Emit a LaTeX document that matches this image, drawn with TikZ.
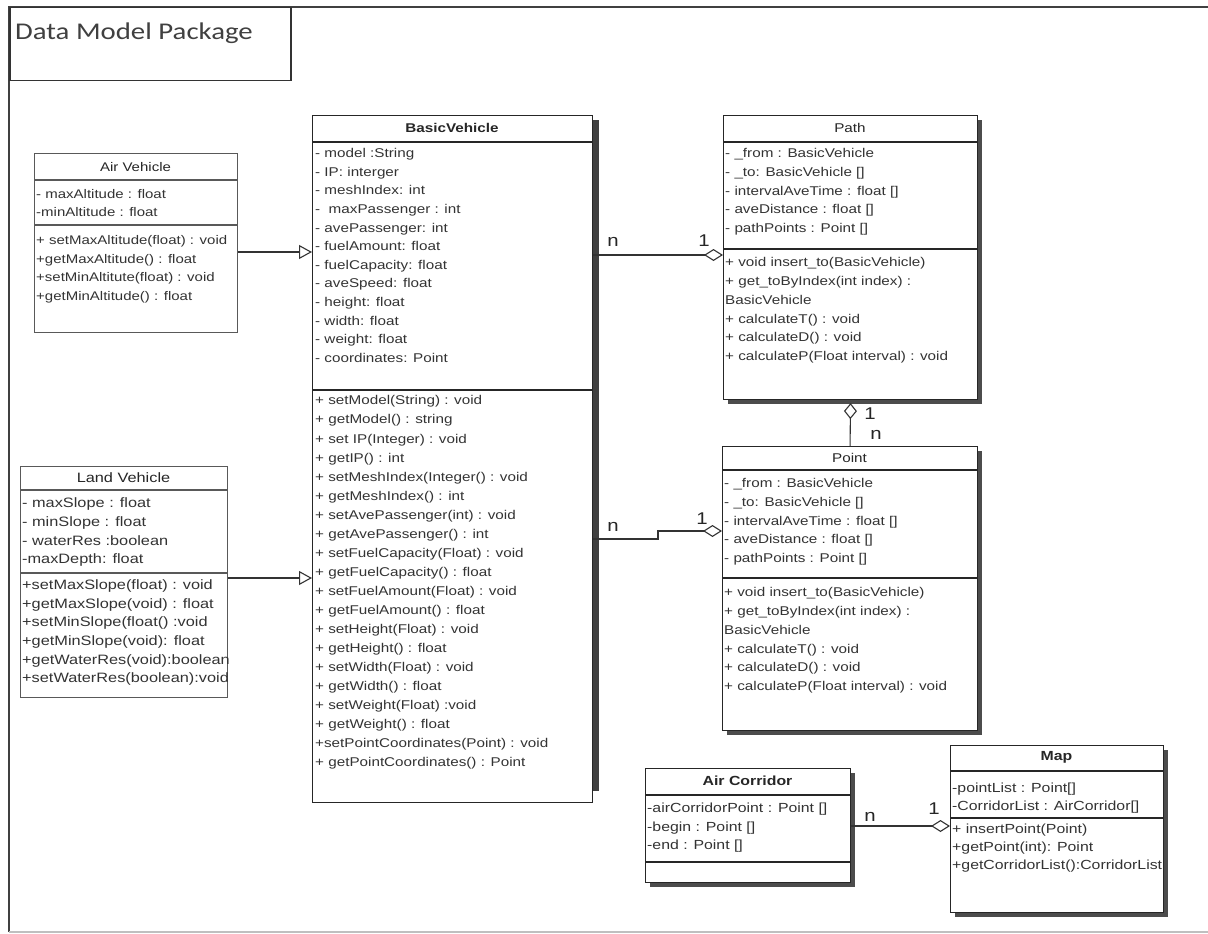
\documentclass[tikz,border=0pt]{standalone}
\usepackage{fontspec}
\newfontfamily\umlf[FakeStretch=1.2]{Liberation Sans}
\newfontfamily\pkgf[FakeStretch=1.2]{Carlito}
\newcommand\umlsize[2]{\umlf\fontsize{#1}{#2}\selectfont}
\usetikzlibrary{arrows.meta,calc,shadows}

\tikzset{
  cls/.style={rectangle, draw=black!85, line width=1.1pt, fill=white, inner sep=0pt, anchor=north west},
  lightcls/.style={rectangle, draw=black!65, line width=1pt, fill=white, inner sep=0pt, anchor=north west},
  shd/.style={drop shadow={shadow xshift=4pt, shadow yshift=-4pt, fill=black!70, opacity=1}},
  sep/.style={draw=black!85, line width=2pt},
  lightsep/.style={draw=black!65, line width=1.8pt},
  txt/.style={inner sep=0pt, anchor=north west, align=left, text=black!80},
  ttl/.style={inner sep=0pt, text=black!85},
  mult/.style={inner sep=0pt, font=\umlsize{17}{17}, text=black!85},
  gen/.style={draw=black!80, line width=1.1pt, -{Triangle[open, length=13pt, width=14pt]}},
  agg/.style={draw=black!80, line width=1.1pt, -{Diamond[open, length=19pt, width=12pt]}},
  aggv/.style={draw=black!80, line width=1.1pt, -{Diamond[open, length=16pt, width=13pt]}},
}

\begin{document}
\begin{tikzpicture}[x=1pt, y=-1pt]
\useasboundingbox (0,0) rectangle (1208,934);
\fill[white] (0,0) rectangle (1208,934);

% package frame and its name tab
\draw[black!75, line width=2pt] (9,932) -- (9,7) -- (1208,7);
\draw[black!25, line width=1.5pt] (9,932) -- (1208,932);
\node[rectangle, draw=black!80, line width=1.5pt, anchor=north west, minimum width=281pt, minimum height=73pt, inner sep=0pt] (pkg) at (9,7) {};
\node[anchor=base west, inner sep=0pt, font=\pkgf\fontsize{24}{24}\selectfont, text=black!75] (pkg-name) at (15,40) {Data Model Package};

% ---------------- Air Vehicle
\node[lightcls, minimum width=203pt, minimum height=179pt] (av) at (34,153) {};
\node[ttl, font=\umlsize{12.5}{15}] (av-t) at (135.5,167) {Air Vehicle};
\draw[lightsep] (av.west |- 0,180) -- (av.east |- 0,180);
\draw[lightsep] (av.west |- 0,225) -- (av.east |- 0,225);
\node[txt, font=\umlsize{12.5}{18}] (av-a) at (36,185.9) {\strut- maxAltitude : float\\-minAltitude : float};
\node[txt, font=\umlsize{12.5}{18.5}] (av-m) at (36,231.5) {\strut+ setMaxAltitude(float) : void\\+getMaxAltitude() : float\\+setMinAltitute(float) : void\\+getMinAltitude() : float};

% ---------------- Land Vehicle
\node[lightcls, minimum width=207pt, minimum height=231pt] (lv) at (20,466) {};
\node[ttl, font=\umlsize{13.6}{15}] (lv-t) at (123.5,478) {Land Vehicle};
\draw[lightsep] (lv.west |- 0,490) -- (lv.east |- 0,490);
\draw[lightsep] (lv.west |- 0,573) -- (lv.east |- 0,573);
\node[txt, font=\umlsize{13.6}{18.7}] (lv-a) at (22,494.4) {\strut- maxSlope : float\\- minSlope : float\\- waterRes :boolean\\-maxDepth: float};
\node[txt, font=\umlsize{13.6}{18.6}] (lv-m) at (22,576.5) {\strut+setMaxSlope(float) : void\\+getMaxSlope(void) : float\\+setMinSlope(float() :void\\+getMinSlope(void): float\\+getWaterRes(void):boolean\\+setWaterRes(boolean):void};

% ---------------- BasicVehicle
\node[cls, minimum width=280pt, minimum height=687pt] (bv) at (312,115) {};
\fill[black!75] ($(bv.north east)+(0,5)$) rectangle ($(bv.south east)+(6,-12)$);
\node[ttl, font=\umlsize{12.7}{15}\bfseries] (bv-t) at (452,128) {BasicVehicle};
\draw[sep] (bv.west |- 0,142) -- (bv.east |- 0,142);
\draw[sep] (bv.west |- 0,390) -- (bv.east |- 0,390);
\node[txt, font=\umlsize{12.7}{18.6}] (bv-a) at (315,144.5) {\strut- model :String\\- IP: interger\\- meshIndex: int\\-\ \ maxPassenger : int\\- avePassenger: int\\- fuelAmount: float\\- fuelCapacity: float\\- aveSpeed: float\\- height: float\\- width: float\\- weight: float\\- coordinates: Point};
\node[txt, font=\umlsize{12.7}{19.05}] (bv-m) at (315,391.4) {\strut+ setModel(String) : void\\+ getModel() : string\\+ set IP(Integer) : void\\+ getIP() : int\\+ setMeshIndex(Integer() : void\\+ getMeshIndex() : int\\+ setAvePassenger(int) : void\\+ getAvePassenger() : int\\+ setFuelCapacity(Float) : void\\+ getFuelCapacity() : float\\+ setFuelAmount(Float) : void\\+ getFuelAmount() : float\\+ setHeight(Float) : void\\+ getHeight() : float\\+ setWidth(Float) : void\\+ getWidth() : float\\+ setWeight(Float) :void\\+ getWeight() : float\\+setPointCoordinates(Point) : void\\+ getPointCoordinates() : Point};

% ---------------- Path
\node[cls, shd, minimum width=254pt, minimum height=284pt] (pa) at (723,115) {};
\node[ttl, font=\umlsize{12.7}{15}] (pa-t) at (850,128) {Path};
\draw[sep] (pa.west |- 0,142) -- (pa.east |- 0,142);
\draw[sep] (pa.west |- 0,249) -- (pa.east |- 0,249);
\node[txt, font=\umlsize{12.7}{18.75}] (pa-a) at (725,144.4) {\strut- \_from : BasicVehicle\\- \_to: BasicVehicle []\\- intervalAveTime : float []\\- aveDistance : float []\\- pathPoints : Point []};
\node[txt, font=\umlsize{12.7}{18.8}] (pa-m) at (725,253.3) {\strut+ void insert\_to(BasicVehicle)\\+ get\_toByIndex(int index) :\\BasicVehicle\\+ calculateT() : void\\+ calculateD() : void\\+ calculateP(Float interval) : void};

% ---------------- Point
\node[cls, shd, minimum width=255pt, minimum height=284pt] (pt) at (722,446) {};
\node[ttl, font=\umlsize{12.7}{15}] (pt-t) at (849.5,458) {Point};
\draw[sep] (pt.west |- 0,470) -- (pt.east |- 0,470);
\draw[sep] (pt.west |- 0,578) -- (pt.east |- 0,578);
\node[txt, font=\umlsize{12.7}{18.75}] (pt-a) at (724,474.4) {\strut- \_from : BasicVehicle\\- \_to: BasicVehicle []\\- intervalAveTime : float []\\- aveDistance : float []\\- pathPoints : Point []};
\node[txt, font=\umlsize{12.7}{18.8}] (pt-m) at (724,583.3) {\strut+ void insert\_to(BasicVehicle)\\+ get\_toByIndex(int index) :\\BasicVehicle\\+ calculateT() : void\\+ calculateD() : void\\+ calculateP(Float interval) : void};

% ---------------- Air Corridor
\node[cls, shd, minimum width=205pt, minimum height=114pt] (ac) at (645,768) {};
\node[ttl, font=\umlsize{13.2}{15}\bfseries] (ac-t) at (747.5,781) {Air Corridor};
\draw[sep] (ac.west |- 0,795) -- (ac.east |- 0,795);
\draw[sep] (ac.west |- 0,862) -- (ac.east |- 0,862);
\node[txt, font=\umlsize{13.2}{18.5}] (ac-a) at (647,799.5) {\strut-airCorridorPoint : Point []\\-begin : Point []\\-end : Point []};

% ---------------- Map
\node[cls, shd, minimum width=213pt, minimum height=167pt] (mp) at (950,745) {};
\node[ttl, font=\umlsize{13.2}{15}\bfseries] (mp-t) at (1056.5,757) {Map};
\draw[sep] (mp.west |- 0,771) -- (mp.east |- 0,771);
\draw[sep] (mp.west |- 0,818) -- (mp.east |- 0,818);
\node[txt, font=\umlsize{13.2}{18}] (mp-a) at (952,779.9) {\strut-pointList : Point[]\\-CorridorList : AirCorridor[]};
\node[txt, font=\umlsize{13.2}{18}] (mp-m) at (952,820.9) {\strut+ insertPoint(Point)\\+getPoint(int): Point\\+getCorridorList():CorridorList};

% ---------------- connectors
\draw[gen] (av.east |- 0,252) -- (bv.west |- 0,252);
\draw[gen] (lv.east |- 0,578) -- (bv.west |- 0,578);
\draw[agg] (bv.east |- 0,255) -- (pa.west |- 0,255);
\coordinate (kink) at (658,539);
\draw[agg] (bv.east |- kink) -- (kink) -- (kink |- 0,531) -- (pt.west |- 0,531);
\draw[aggv] (pt.north) -- ($(pa.south)+(0,3)$);
\draw[agg] (ac.east |- 0,826) -- (mp.west |- 0,826);

% multiplicities
\node[mult] (m1) at (613,242) {n};
\node[mult] (m2) at (704,241) {1};
\node[mult] (m3) at (613,527) {n};
\node[mult] (m4) at (702,519) {1};
\node[mult] (m5) at (870,414) {1};
\node[mult] (m6) at (876,435) {n};
\node[mult] (m7) at (870,817) {n};
\node[mult] (m8) at (934,809) {1};
\end{tikzpicture}
\end{document}
